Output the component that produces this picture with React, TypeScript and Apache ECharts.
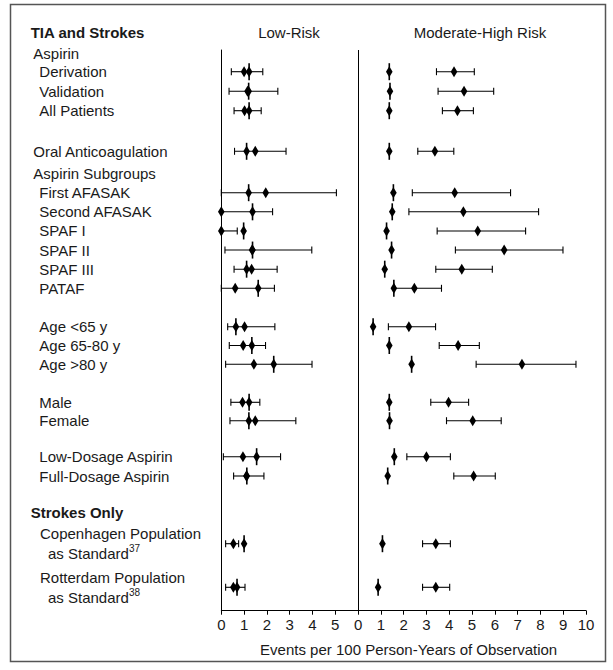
import React, { useEffect, useRef } from "react";
import * as echarts from "echarts";

// ---------- data ----------
const rowLabels = [
  "Derivation",
  "Validation",
  "All Patients",
  "Oral Anticoagulation",
  "First AFASAK",
  "Second AFASAK",
  "SPAF I",
  "SPAF II",
  "SPAF III",
  "PATAF",
  "Age <65 y",
  "Age 65-80 y",
  "Age >80 y",
  "Male",
  "Female",
  "Low-Dosage Aspirin",
  "Full-Dosage Aspirin",
  "Copenhagen Population\nas Standard^37",
  "Rotterdam Population\nas Standard^38",
];
const groupSizes = [3, 1, 6, 3, 2, 2, 2];
const headers = ["TIA and Strokes", "Aspirin", "Aspirin Subgroups", "Strokes Only"];
const panelTitles = ["Low-Risk", "Moderate-High Risk"];
const lowTicks = [0, 1, 2, 3, 4, 5];
const highTicks = [0, 1, 2, 3, 4, 5, 6, 7, 8, 9, 10];
const axisTitle = "Events per 100 Person-Years of Observation";

// Low-risk panel
const lowPoint = [1.22, 1.2, 1.22, 1.11, 1.2, 1.37, 0.98, 1.37, 1.11, 1.62, 0.64, 1.34, 2.3, 1.22, 1.21, 1.55, 1.12, 1.0, 0.69];
const lowRate = [1.0, 1.15, 1.02, 1.49, 1.95, 0.0, 0.0, 1.35, 1.33, 0.61, 1.02, 0.96, 1.43, 0.93, 1.49, 0.95, 1.1, 0.53, 0.53];
const lowLower = [0.44, 0.34, 0.56, 0.58, 0.0, 0.0, 0.0, 0.16, 0.56, 0.0, 0.28, 0.35, 0.19, 0.42, 0.38, 0.09, 0.54, 0.19, 0.19];
const lowUpper = [1.82, 2.48, 1.75, 2.84, 5.05, 2.25, 0.7, 3.97, 2.45, 2.33, 2.35, 1.94, 3.98, 1.69, 3.27, 2.6, 1.87, 0.76, 1.04];

// Moderate-high risk panel
const highPoint = [1.37, 1.4, 1.37, 1.37, 1.55, 1.5, 1.25, 1.47, 1.17, 1.57, 0.66, 1.37, 2.35, 1.37, 1.38, 1.59, 1.3, 1.07, 0.88];
const highRate = [4.21, 4.65, 4.36, 3.37, 4.24, 4.62, 5.25, 6.41, 4.55, 2.47, 2.23, 4.39, 7.19, 3.97, 5.03, 3.0, 5.07, 3.41, 3.41];
const highLower = [3.44, 3.51, 3.7, 2.62, 2.38, 2.23, 3.47, 4.27, 3.41, 1.6, 1.33, 3.56, 5.18, 3.19, 3.88, 2.14, 4.2, 2.83, 2.83];
const highUpper = [5.1, 5.95, 5.06, 4.2, 6.69, 7.92, 7.35, 8.99, 5.89, 3.66, 3.4, 5.32, 9.56, 4.85, 6.28, 4.05, 6.02, 4.05, 4.02];

// ---------- layout ----------
const FONT = '"Liberation Sans", Arial, sans-serif';
const TXT = "#1a1a1a";
const PLOT_LEFT = 221.3;
const PLOT_WIDTH = 364.7;
const HIGH_OFFSET = lowTicks.length; // right panel starts where low panel ends
const X_MAX = HIGH_OFFSET + highTicks[highTicks.length - 1];

const groupLayout = [
  { top: 61.95, height: 58.5, labelX: 39.3 },
  { top: 141.55, height: 19.5, labelX: 33.3 },
  { top: 183.14, height: 114.72, labelX: 39.3 },
  { top: 317.3, height: 56.4, labelX: 39.3 },
  { top: 393.1, height: 36.8, labelX: 39.3 },
  { top: 447.05, height: 38.6, labelX: 39.3 },
  { top: 521.9, height: 87.2, labelX: 40 },
];

function labelFormatter(v: string) {
  const lines = v.split("\n");
  return lines
    .map((ln, i) => {
      const [main, sup] = ln.split("^");
      const style = i === 0 ? "a" : "b";
      return `{${style}|${main}}` + (sup ? `{s|${sup}}` : "");
    })
    .join("\n");
}

function renderItem(params: any, api: any) {
  const row = api.value(4);
  const pA = api.coord([api.value(0), row]);
  const pB = api.coord([api.value(1), row]);
  const pLo = api.coord([api.value(2), row]);
  const pHi = api.coord([api.value(3), row]);
  const y = pA[1];
  const stroke = { stroke: "#000", lineWidth: 1.1 };
  const diamond = (x: number) => ({
    type: "polygon",
    shape: { points: [[x, y - 5.5], [x + 3.3, y], [x, y + 5.5], [x - 3.3, y]] },
    style: { fill: "#000" },
  });
  return {
    type: "group",
    children: [
      { type: "line", shape: { x1: pLo[0], y1: y, x2: pHi[0], y2: y }, style: stroke },
      { type: "line", shape: { x1: pLo[0], y1: y - 3.5, x2: pLo[0], y2: y + 3.5 }, style: stroke },
      { type: "line", shape: { x1: pHi[0], y1: y - 3.5, x2: pHi[0], y2: y + 3.5 }, style: stroke },
      { type: "line", shape: { x1: pA[0], y1: y - 8.5, x2: pA[0], y2: y + 8.5 }, style: { stroke: "#000", lineWidth: 1.6 } },
      diamond(pA[0]),
      diamond(pB[0]),
    ],
  };
}

export default function App() {
  const ref = useRef<HTMLDivElement>(null);
  useEffect(() => {
    const chart = echarts.init(ref.current!, null, { renderer: "svg" });

    const grids: any[] = [
      { left: PLOT_LEFT, width: PLOT_WIDTH, top: 50, bottom: 59.3 },
    ];
    const xAxes: any[] = [
      {
        gridIndex: 0,
        type: "value",
        min: 0,
        max: X_MAX,
        interval: 1,
        axisLine: { show: true, lineStyle: { color: "#000", width: 1 } },
        axisTick: { show: true, length: 4, lineStyle: { color: "#000" } },
        splitLine: { show: false },
        axisLabel: {
          fontFamily: FONT,
          fontSize: 15,
          color: TXT,
          margin: 6,
          formatter: (v: number) => (v < HIGH_OFFSET ? String(lowTicks[v]) : String(highTicks[v - HIGH_OFFSET])),
        },
        name: axisTitle,
        nameLocation: "middle",
        nameGap: 31,
        nameTextStyle: { fontFamily: FONT, fontSize: 15, color: TXT, padding: [0, 0, 0, 10] },
      },
    ];
    const yAxes: any[] = [
      {
        gridIndex: 0,
        type: "value",
        min: 0,
        max: 1,
        axisLine: { show: true, lineStyle: { color: "#000", width: 1 } },
        axisTick: { show: false },
        axisLabel: { show: false },
        splitLine: { show: false },
      },
    ];
    const series: any[] = [
      {
        type: "scatter",
        xAxisIndex: 0,
        yAxisIndex: 0,
        data: [],
        symbolSize: 0,
        silent: true,
        markLine: {
          silent: true,
          symbol: "none",
          label: { show: false },
          lineStyle: { color: "#000", width: 1, type: "solid" },
          data: [{ xAxis: HIGH_OFFSET }],
        },
      },
    ];

    let start = 0;
    groupSizes.forEach((n, g) => {
      const lay = groupLayout[g];
      const gi = g + 1;
      grids.push({ left: PLOT_LEFT, width: PLOT_WIDTH, top: lay.top, height: lay.height });
      xAxes.push({ gridIndex: gi, type: "value", min: 0, max: X_MAX, show: false });
      const labels = rowLabels.slice(start, start + n);
      yAxes.push({
        gridIndex: gi,
        type: "category",
        inverse: true,
        data: labels,
        axisLine: { show: false },
        axisTick: { show: false },
        splitLine: { show: false },
        axisLabel: {
          interval: 0,
          align: "left",
          margin: PLOT_LEFT - lay.labelX,
          fontFamily: FONT,
          fontSize: 15,
          color: TXT,
          formatter: labelFormatter,
          rich: {
            a: { fontFamily: FONT, fontSize: 15, color: TXT, lineHeight: 19.6 },
            b: { fontFamily: FONT, fontSize: 15, color: TXT, lineHeight: 19.6, padding: [0, 0, 0, 8] },
            s: { fontFamily: FONT, fontSize: 10, color: TXT, lineHeight: 19.6, verticalAlign: "top" },
          },
        },
      });
      const data: any[] = [];
      for (let i = 0; i < n; i++) {
        const r = start + i;
        data.push([lowPoint[r], lowRate[r], lowLower[r], lowUpper[r], i]);
        data.push([
          highPoint[r] + HIGH_OFFSET,
          highRate[r] + HIGH_OFFSET,
          highLower[r] + HIGH_OFFSET,
          highUpper[r] + HIGH_OFFSET,
          i,
        ]);
      }
      series.push({
        type: "custom",
        xAxisIndex: gi,
        yAxisIndex: gi,
        clip: false,
        silent: true,
        renderItem,
        encode: { x: [0, 1, 2, 3], y: 4 },
        data,
      });
      start += n;
    });

    const option: any = {
      animation: false,
      backgroundColor: "#fff",
      grid: grids,
      xAxis: xAxes,
      yAxis: yAxes,
      series,
      graphic: [
        {
          type: "rect",
          shape: { x: 10.5, y: 4.5, width: 595, height: 657 },
          style: { fill: "none", stroke: "#555", lineWidth: 1.5 },
          silent: true,
        },
        {
          type: "text",
          x: 30.7,
          y: 32,
          style: { text: headers[0], font: `bold 15px ${FONT}`, fill: TXT, textAlign: "left", textVerticalAlign: "middle" },
        },
        {
          type: "text",
          x: 33.3,
          y: 53,
          style: { text: headers[1], font: `15px ${FONT}`, fill: TXT, textAlign: "left", textVerticalAlign: "middle" },
        },
        {
          type: "text",
          x: 33.3,
          y: 173.3,
          style: { text: headers[2], font: `15px ${FONT}`, fill: TXT, textAlign: "left", textVerticalAlign: "middle" },
        },
        {
          type: "text",
          x: 30.7,
          y: 512.7,
          style: { text: headers[3], font: `bold 15px ${FONT}`, fill: TXT, textAlign: "left", textVerticalAlign: "middle" },
        },
        {
          type: "text",
          x: 289,
          y: 32,
          style: { text: panelTitles[0], font: `15px ${FONT}`, fill: TXT, textAlign: "center", textVerticalAlign: "middle" },
        },
        {
          type: "text",
          x: 480,
          y: 32,
          style: { text: panelTitles[1], font: `15px ${FONT}`, fill: TXT, textAlign: "center", textVerticalAlign: "middle" },
        },
      ],
    };
    chart.setOption(option);
    return () => chart.dispose();
  }, []);
  return <div ref={ref} style={{ position: "absolute", left: 0, top: 0, width: 613, height: 670 }} />;
}
